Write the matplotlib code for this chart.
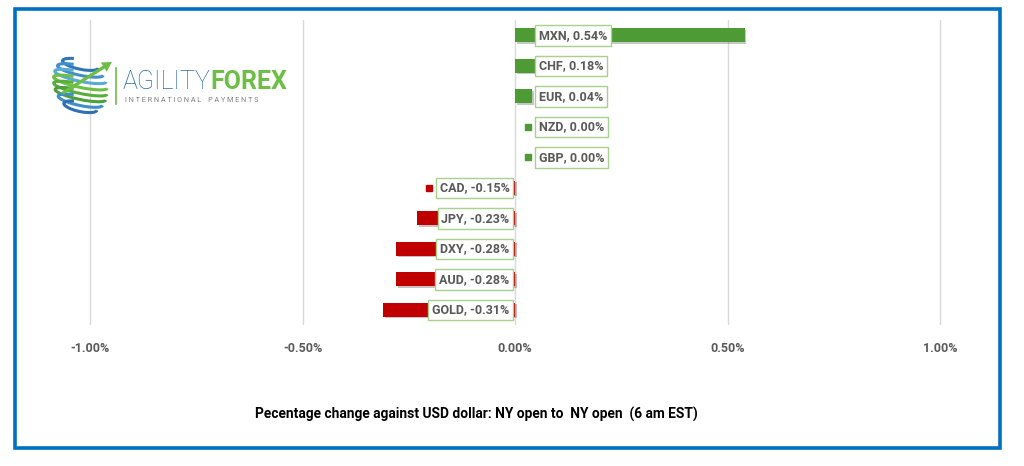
import numpy as np
import matplotlib.pyplot as plt
from matplotlib.patches import Rectangle, Arc, FancyArrow
import matplotlib.patheffects as pe

plt.rcParams['font.family'] = ['Roboto', 'DejaVu Sans']

currencies = ['MXN', 'CHF', 'EUR', 'NZD', 'GBP', 'CAD', 'JPY', 'DXY', 'AUD', 'GOLD']
changes = [0.54, 0.18, 0.04, 0.00, 0.00, -0.15, -0.23, -0.28, -0.28, -0.31]
xticks = [-1.0, -0.5, 0.0, 0.5, 1.0]
xlabel = 'Pecentage change against USD dollar: NY open to  NY open  (6 am EST)'

green = '#4E9A34'
red = '#C00000'
grey = '#595959'

W, H = 1024, 466
fig = plt.figure(figsize=(W / 100, H / 100), dpi=100)

# blue frame round the whole chart
fig.patches.append(Rectangle((15 / W, 1 - 447.5 / H), 985 / W, 438.5 / H,
                             transform=fig.transFigure, fill=False,
                             edgecolor='#0070C0', linewidth=2.6))

# plot area: x -1..1 sits at px 90..940, rows between px 20..325
pad = 0.05
px_per_unit = 850 / 2
left = 90 - pad * px_per_unit
right = 940 + pad * px_per_unit
ax = fig.add_axes([left / W, 1 - 325 / H, (right - left) / W, 305 / H])
ax.set_xlim(-1 - pad, 1 + pad)
ax.set_ylim(len(currencies) - 0.5, -0.5)

y = np.arange(len(currencies))
colors = [green if v >= 0 else red for v in changes]
bars = ax.barh(y, changes, height=0.46, color=colors, zorder=2)
for b in bars:
    b.set_path_effects([pe.SimplePatchShadow(offset=(1.2, -1.2), alpha=0.25), pe.Normal()])

ax.set_xticks(xticks)
ax.set_xticklabels(['{:.2f}%'.format(t) for t in xticks],
                   color=grey, fontsize=9, fontweight='bold')
ax.tick_params(axis='x', length=0, pad=12)
ax.set_yticks([])
ax.grid(axis='x', color='#D9D9D9', linewidth=1, zorder=0)
for s in ax.spines.values():
    s.set_visible(False)

# data labels with legend keys
texts = []
for i, (name, v, c) in enumerate(zip(currencies, changes, colors)):
    lab = '{}, {:.2f}%'.format(name, v)
    box = dict(boxstyle='square,pad=0.3', facecolor='white', edgecolor='#A9D18E', linewidth=1)
    if v >= 0:
        t = ax.annotate(lab, (0, i), xytext=(17, 0), textcoords='offset points',
                        ha='left', va='center', fontsize=9, fontweight='bold',
                        color=grey, bbox=box, zorder=4)
    else:
        t = ax.annotate(lab, (0, i), xytext=(-4, 0), textcoords='offset points',
                        ha='right', va='center', fontsize=9, fontweight='bold',
                        color=grey, bbox=box, zorder=4)
    texts.append(t)

fig.canvas.draw()
rend = fig.canvas.get_renderer()
for i, (t, v, c) in enumerate(zip(texts, changes, colors)):
    bb = t.get_bbox_patch().get_window_extent(rend)
    kx = bb.x0 - 6.5
    xd, _ = ax.transData.inverted().transform((kx, 0))
    ax.plot([xd], [i], marker='s', markersize=5, color=c,
            zorder=3 if abs(v) > 0.02 else 5, linestyle='none')

fig.text(476 / W, 1 - 414 / H, xlabel, ha='center', va='center',
         fontsize=9.9, fontweight='bold', color='black')

# logo
lax = fig.add_axes([46 / W, 1 - 118 / H, 66 / W, 66 / H])
lax.set_xlim(-1.2, 1.2)
lax.set_ylim(-1.2, 1.2)
lax.axis('off')
arc_cols = ['#2E75B6', '#3F8FC9', '#5AA9D6', '#6DBE45', '#58AE3A', '#4C9F3A', '#3D8FC6', '#2E6FB5']
for k, col in enumerate(arc_cols):
    yy = 0.75 - k * 0.22
    w = 2 * np.sqrt(max(1 - yy ** 2, 0.05))
    lax.add_patch(Arc((0.05, yy), w, 0.35, angle=-12, theta1=150, theta2=360,
                      color=col, linewidth=2.2))
lax.add_patch(FancyArrow(-0.6, -0.3, 1.5, 0.95, width=0.12, head_width=0.4,
                         head_length=0.35, color='#6DBE45', linewidth=0))

fig.add_artist(plt.Line2D([116 / W, 116 / W], [1 - 104 / H, 1 - 68 / H],
                          color='#6DBE45', linewidth=1.2))
t1 = fig.text(123 / W, 1 - 82 / H, 'AGILITY', ha='left', va='center',
              fontsize=18, fontweight='light', color='#2A6DB0')
fig.canvas.draw()
bb1 = t1.get_window_extent(fig.canvas.get_renderer())
fig.text(bb1.x1 / W, 1 - 82 / H, 'FOREX', ha='left', va='center',
         fontsize=18, fontweight='bold', color='#6DBE45')
fig.text(125 / W, 1 - 101 / H, 'I N T E R N A T I O N A L    P A Y M E N T S',
         ha='left', va='center', fontsize=5.2, color='#7F7F7F')

plt.savefig('out.png', dpi=100)
